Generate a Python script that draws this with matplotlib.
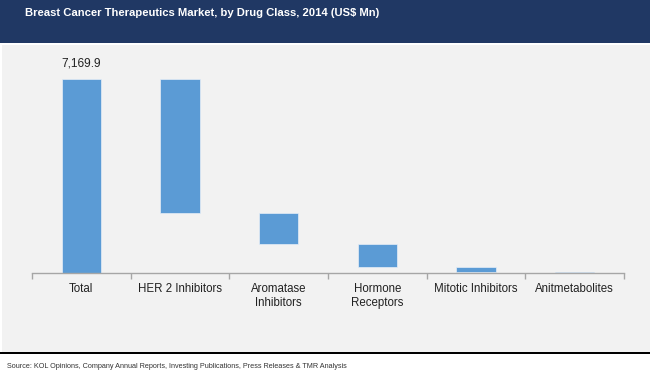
import numpy as np
import matplotlib.pyplot as plt
from matplotlib.patches import Rectangle

plt.rcParams['font.family'] = ['Liberation Sans', 'DejaVu Sans']

categories = ['Total', 'HER 2 Inhibitors', 'Aromatase\nInhibitors',
              'Hormone\nReceptors', 'Mitotic Inhibitors', 'Anitmetabolites']
total = 7169.9
segments = [4955, 1150, 840, 215, 9.9]

W, H = 650, 379
fig = plt.figure(figsize=(6.5, 3.79), dpi=100, facecolor='white')

# header band, grey panel, black rule
fig.patches.append(Rectangle((0, 1 - 43 / H), 1, 43 / H, transform=fig.transFigure,
                             facecolor='#203864', edgecolor='none', zorder=-1))
fig.patches.append(Rectangle((2 / W, (H - 352) / H), 1, 307 / H, transform=fig.transFigure,
                             facecolor='#f2f2f2', edgecolor='none', zorder=-1))
fig.patches.append(Rectangle((0, (H - 354) / H), 1, 2.5 / H, transform=fig.transFigure,
                             facecolor='black', edgecolor='none', zorder=-1))

fig.text(25 / W, 1 - 13.5 / H, 'Breast Cancer Therapeutics Market, by Drug Class, 2014 (US$ Mn)',
         color='white', fontsize=8.1, fontweight='bold', va='center', ha='left')
fig.text(7 / W, 1 - 366 / H,
         'Source: KOL Opinions, Company Annual Reports, Investing Publications, Press Releases & TMR Analysis',
         color='#333333', fontsize=5.2, va='center', ha='left')

ymax = 8000
px_per_unit = 193.7 / total
ax_h = ymax * px_per_unit
ax = fig.add_axes([32 / W, (H - 272.7) / H, 592 / W, ax_h / H])
ax.set_facecolor('none')

heights = [total] + segments
bottoms = [0] + list(total - np.cumsum(segments))
x = np.arange(len(categories))
ax.bar(x, heights, bottom=bottoms, width=0.4, color='#5b9bd5',
       edgecolor='#e6eef7', linewidth=0.5, zorder=2)

ax.text(0, total + 560, '7,169.9', ha='center', va='center', fontsize=8.6, color='#222222')

ax.set_xlim(-0.5, len(categories) - 0.5)
ax.set_ylim(0, ymax)
ax.set_xticks(x)
ax.set_xticklabels(categories, fontsize=8.3, color='#222222', linespacing=1.25)
ax.set_xticks(np.arange(-0.5, len(categories)), minor=True)
ax.tick_params(axis='x', which='major', length=0, pad=7.5)
ax.tick_params(axis='x', which='minor', length=4, color='#a6a6a6', width=1)
ax.set_yticks([])
for s in ['top', 'right', 'left']:
    ax.spines[s].set_visible(False)
ax.spines['bottom'].set_color('#a6a6a6')
ax.spines['bottom'].set_linewidth(1)

plt.savefig('out.png', dpi=100)
